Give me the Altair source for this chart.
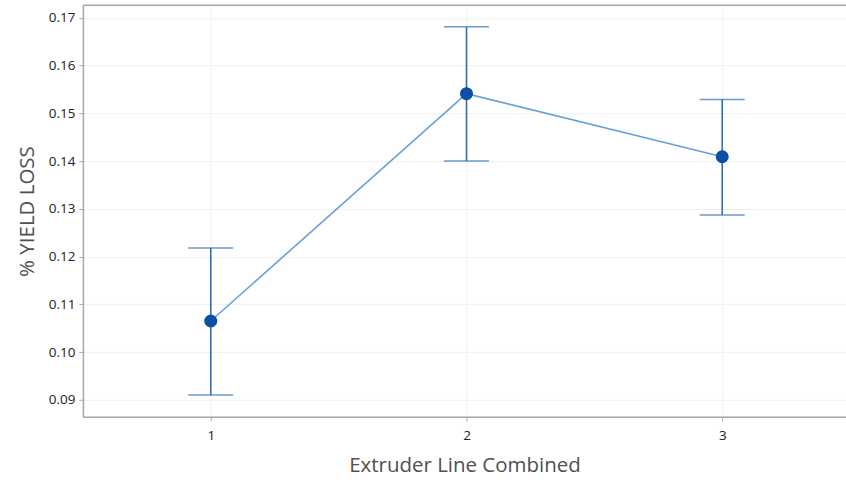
import altair as alt
import pandas as pd

groups = [1, 2, 3]
means = [0.1065, 0.1541, 0.1409]
lower = [0.0910, 0.1400, 0.1287]
upper = [0.1218, 0.1681, 0.1529]

df = pd.DataFrame({"g": groups, "mean": means, "lo": lower, "hi": upper})

W, H = 764, 412
FONT = "Open Sans"

xs = alt.Scale(domain=[0.5, 3.484], nice=False, zero=False)
ys = alt.Scale(domain=[0.08644, 0.17262], nice=False, zero=False)

xax = alt.Axis(values=groups, format="d", title="Extruder Line Combined",
               grid=True, gridColor="#f0f0f0", domainColor="#a8a8a8", domainWidth=1.5,
               tickColor="#a8a8a8", tickSize=4, labelFontSize=13.5, labelColor="#222222",
               labelFont=FONT, labelFontWeight=500, titleFont=FONT, titleFontSize=20.5,
               titleColor="#505050", titleFontWeight="normal", labelPadding=8, titlePadding=13)
yax = alt.Axis(values=[0.09, 0.10, 0.11, 0.12, 0.13, 0.14, 0.15, 0.16, 0.17], format=".2f",
               title="% YIELD LOSS", grid=True, gridColor="#f0f0f0", domainColor="#a8a8a8",
               domainWidth=1.5, tickColor="#a8a8a8", tickSize=4, labelFontSize=13.5,
               labelColor="#222222", labelFont=FONT, labelFontWeight=500, titleFont=FONT,
               titleFontSize=20.5, titleColor="#505050", titleFontWeight="normal",
               labelPadding=4, titlePadding=11)

base = alt.Chart(df)

line = base.mark_line(color="#6a9fd8", strokeWidth=1.6).encode(
    x=alt.X("g:Q", scale=xs, axis=xax),
    y=alt.Y("mean:Q", scale=ys, axis=yax),
)
bars = base.mark_rule(color="#2f6fba", strokeWidth=1.6).encode(
    x=alt.X("g:Q", scale=xs), y=alt.Y("lo:Q", scale=ys), y2="hi:Q"
)
cap_lo = base.mark_tick(color="#2f6fba", thickness=1.5, size=45, orient="horizontal").encode(
    x=alt.X("g:Q", scale=xs), y=alt.Y("lo:Q", scale=ys)
)
cap_hi = base.mark_tick(color="#2f6fba", thickness=1.5, size=45, orient="horizontal").encode(
    x=alt.X("g:Q", scale=xs), y=alt.Y("hi:Q", scale=ys)
)
pts = base.mark_point(filled=True, color="#0a50a5", size=170, opacity=1).encode(
    x=alt.X("g:Q", scale=xs), y=alt.Y("mean:Q", scale=ys)
)
top = alt.Chart(pd.DataFrame({"a": [0]})).mark_rule(color="#a8a8a8", strokeWidth=1.5).encode(
    x=alt.value(0), x2=alt.value(W), y=alt.value(0)
)

chart = alt.layer(line, bars, cap_lo, cap_hi, pts, top).properties(
    width=W, height=H,
    autosize=alt.AutoSizeParams(type="none"),
    padding={"left": 83, "top": 5, "right": 0, "bottom": 63},
).configure_view(stroke=None).configure(background="white")

chart.save("out.html", embed_options={"renderer": "svg", "actions": False})
